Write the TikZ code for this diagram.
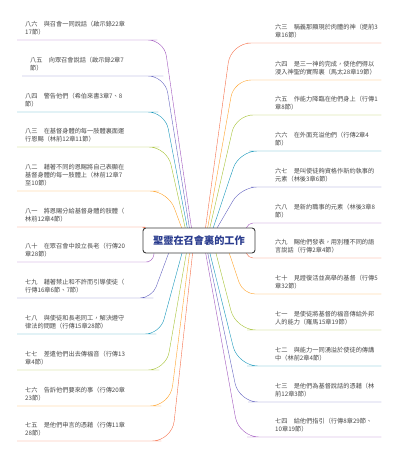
\documentclass[tikz,border=0pt]{standalone}
\usepackage{fontspec}
\newfontfamily\mapfont{Noto Sans CJK TC}
\usetikzlibrary{backgrounds}
\definecolor{mapPurple}{HTML}{9F55BD}
\definecolor{mapViolet}{HTML}{6464C0}
\definecolor{mapTeal}{HTML}{1596BA}
\definecolor{mapLime}{HTML}{A4C232}
\definecolor{mapOrange}{HTML}{FFA229}
\definecolor{mapCoral}{HTML}{F56F4A}
\definecolor{mapInk}{HTML}{4A4A4A}
\definecolor{mapNavy}{HTML}{2A3C8E}
\definecolor{mapFrame}{HTML}{3A3A3A}
\tikzset{
  mind map/.style={x=1pt, y=-1pt, line cap=round},
  map hub/.style={draw=mapFrame, line width=0.9pt, fill=white,
    rounded corners=3pt, minimum width=112pt, minimum height=25pt,
    inner sep=0pt, text=mapNavy,
    font=\mapfont\bfseries\fontsize{10.2}{12}\selectfont},
  map item/.style={anchor=south west, inner xsep=8pt, inner ysep=4.5pt,
    align=left, text=mapInk, font=\mapfont\fontsize{6.2}{8}\selectfont},
  left item/.style={map item, text width=108pt},
  right item/.style={map item, text width=98pt},
  map branch/.style={line width=1.8pt}
}

\begin{document}
\begin{tikzpicture}[mind map]
  \useasboundingbox (0,0) rectangle (400,459);
  \node[map hub] (hub) at (199,240.5) {聖靈在召會裏的工作};
  % left column
  \node[left item] (l86) at (17,40) {八六　與召會一同說話（啟示錄22章\\17節）};
  \node[left item] (l85) at (22,76) {八五　向眾召會說話（啟示錄2章7\\節）};
  \node[left item] (l84) at (17,112) {八四　警告他們（希伯來書3章7、8\\節）};
  \node[left item] (l83) at (17,147) {八三　在基督身體的每一肢體裏面運\\行恩賜（林前12章11節）};
  \node[left item] (l82) at (17,191) {八二　藉著不同的恩賜將自己表顯在\\基督身體的每一肢體上（林前12章7\\至10節）};
  \node[left item] (l81) at (17,227) {八一　將恩賜分給基督身體的肢體（\\林前12章4節）};
  \node[left item] (l80) at (17,262) {八十　在眾召會中設立長老（行傳20\\章28節）};
  \node[left item] (l79) at (17,298) {七九　藉著禁止和不許而引導使徒（\\行傳16章6節、7節）};
  \node[left item] (l78) at (17,334) {七八　與使徒和長老同工，解決遵守\\律法的問題（行傳15章28節）};
  \node[left item] (l77) at (17,370) {七七　差遣他們出去傳福音（行傳13\\章4節）};
  \node[left item] (l76) at (17,406) {七六　告訴他們要來的事（行傳20章\\23節）};
  \node[left item] (l75) at (17,441) {七五　是他們申言的憑藉（行傳11章\\28節）};
  % right column
  \node[right item] (r63) at (267,43) {六三　稱義那顯現於肉體的神（提前3\\章16節）};
  \node[right item] (r64) at (267,80) {六四　是三一神的完成，使他們得以\\浸入神聖的實際裏（馬太28章19節）};
  \node[right item] (r65) at (267,115) {六五　作能力降臨在他們身上（行傳1\\章8節）};
  \node[right item] (r66) at (267,151) {六六　在外面充溢他們（行傳2章4\\節）};
  \node[right item] (r67) at (267,187) {六七　是叫使徒夠資格作新約執事的\\元素（林後3章6節）};
  \node[right item] (r68) at (267,223) {六八　是新約職事的元素（林後3章8\\節）};
  \node[right item] (r69) at (267,258) {六九　賜他們發表，用別種不同的語\\言說話（行傳2章4節）};
  \node[right item] (r70) at (267,294) {七十　見證復活並高舉的基督（行傳5\\章32節）};
  \node[right item] (r71) at (267,330) {七一　是使徒將基督的福音傳給外邦\\人的能力（羅馬15章19節）};
  \node[right item] (r72) at (267,366) {七二　與能力一同湧溢於使徒的傳講\\中（林前2章4節）};
  \node[right item] (r73) at (267,402) {七三　是他們為基督說話的憑藉（林\\前12章3節）};
  \node[right item] (r74) at (267,437) {七四　給他們指引（行傳8章29節、\\10章19節）};
  \begin{scope}[on background layer, map branch]
    % branches to the left
    \draw[mapPurple, rounded corners=16pt] ([xshift=-7pt,yshift=-4pt]hub.north) -- (164,40) -- (l86.south east) -- (l86.south west);
    \draw[mapViolet, rounded corners=17pt] ([xshift=-9pt,yshift=-4pt]hub.north) -- (165,76) -- (l85.south east) -- (l85.south west);
    \draw[mapTeal, rounded corners=17pt] ([xshift=-11pt,yshift=-4pt]hub.north) -- (165,112) -- (l84.south east) -- (l84.south west);
    \draw[mapLime, rounded corners=18pt] ([xshift=-13pt,yshift=-4pt]hub.north) -- (167,147) -- (l83.south east) -- (l83.south west);
    \draw[mapOrange, rounded corners=18pt] ([xshift=-16pt,yshift=-4pt]hub.north) -- (168,191) -- (l82.south east) -- (l82.south west);
    \draw[mapCoral, rounded corners=4pt] ([xshift=8pt,yshift=-6pt]hub.north west) -- (146,227) -- (l81.south east) -- (l81.south west);
    \draw[mapPurple, rounded corners=7pt] ([xshift=12pt,yshift=5pt]hub.south west) -- (153,262) -- (l80.south east) -- (l80.south west);
    \draw[mapViolet, rounded corners=12pt] ([xshift=-29pt,yshift=4pt]hub.south) -- (152,298) -- (l79.south east) -- (l79.south west);
    \draw[mapTeal, rounded corners=15pt] ([xshift=-16pt,yshift=4pt]hub.south) -- (160,334) -- (l78.south east) -- (l78.south west);
    \draw[mapLime, rounded corners=18pt] ([xshift=-12pt,yshift=4pt]hub.south) -- (166,370) -- (l77.south east) -- (l77.south west);
    \draw[mapOrange, rounded corners=20pt] ([xshift=-9pt,yshift=4pt]hub.south) -- (170,406) -- (l76.south east) -- (l76.south west);
    \draw[mapCoral, rounded corners=20pt] ([xshift=-6pt,yshift=4pt]hub.south) -- (172,441) -- (l75.south east) -- (l75.south west);
    % branches to the right
    \draw[mapCoral, rounded corners=20pt] ([xshift=6pt,yshift=-4pt]hub.north) -- (231,43) -- (r63.south west) -- (r63.south east);
    \draw[mapOrange, rounded corners=17pt] ([xshift=8pt,yshift=-4pt]hub.north) -- (234,80) -- (r64.south west) -- (r64.south east);
    \draw[mapLime, rounded corners=17pt] ([xshift=10pt,yshift=-4pt]hub.north) -- (236,115) -- (r65.south west) -- (r65.south east);
    \draw[mapTeal, rounded corners=18pt] ([xshift=13pt,yshift=-4pt]hub.north) -- (239,151) -- (r66.south west) -- (r66.south east);
    \draw[mapViolet, rounded corners=16pt] ([xshift=16pt,yshift=-4pt]hub.north) -- (241,187) -- (r67.south west) -- (r67.south east);
    \draw[mapPurple, rounded corners=5pt] ([xshift=-11pt,yshift=-6pt]hub.north east) -- (248,223) -- (r68.south west) -- (r68.south east);
    \draw[mapCoral, rounded corners=5pt] ([xshift=-11pt,yshift=6pt]hub.south east) -- (248,258) -- (r69.south west) -- (r69.south east);
    \draw[mapOrange, rounded corners=12pt] ([xshift=29pt,yshift=4pt]hub.south) -- (243,294) -- (r70.south west) -- (r70.south east);
    \draw[mapLime, rounded corners=20pt] ([xshift=16pt,yshift=4pt]hub.south) -- (236,330) -- (r71.south west) -- (r71.south east);
    \draw[mapTeal, rounded corners=20pt] ([xshift=10pt,yshift=4pt]hub.south) -- (238,366) -- (r72.south west) -- (r72.south east);
    \draw[mapViolet, rounded corners=19pt] ([xshift=8pt,yshift=4pt]hub.south) -- (239,402) -- (r73.south west) -- (r73.south east);
    \draw[mapPurple, rounded corners=20pt] ([xshift=6pt,yshift=4pt]hub.south) -- (239,437) -- (r74.south west) -- (r74.south east);
  \end{scope}
\end{tikzpicture}
\end{document}
